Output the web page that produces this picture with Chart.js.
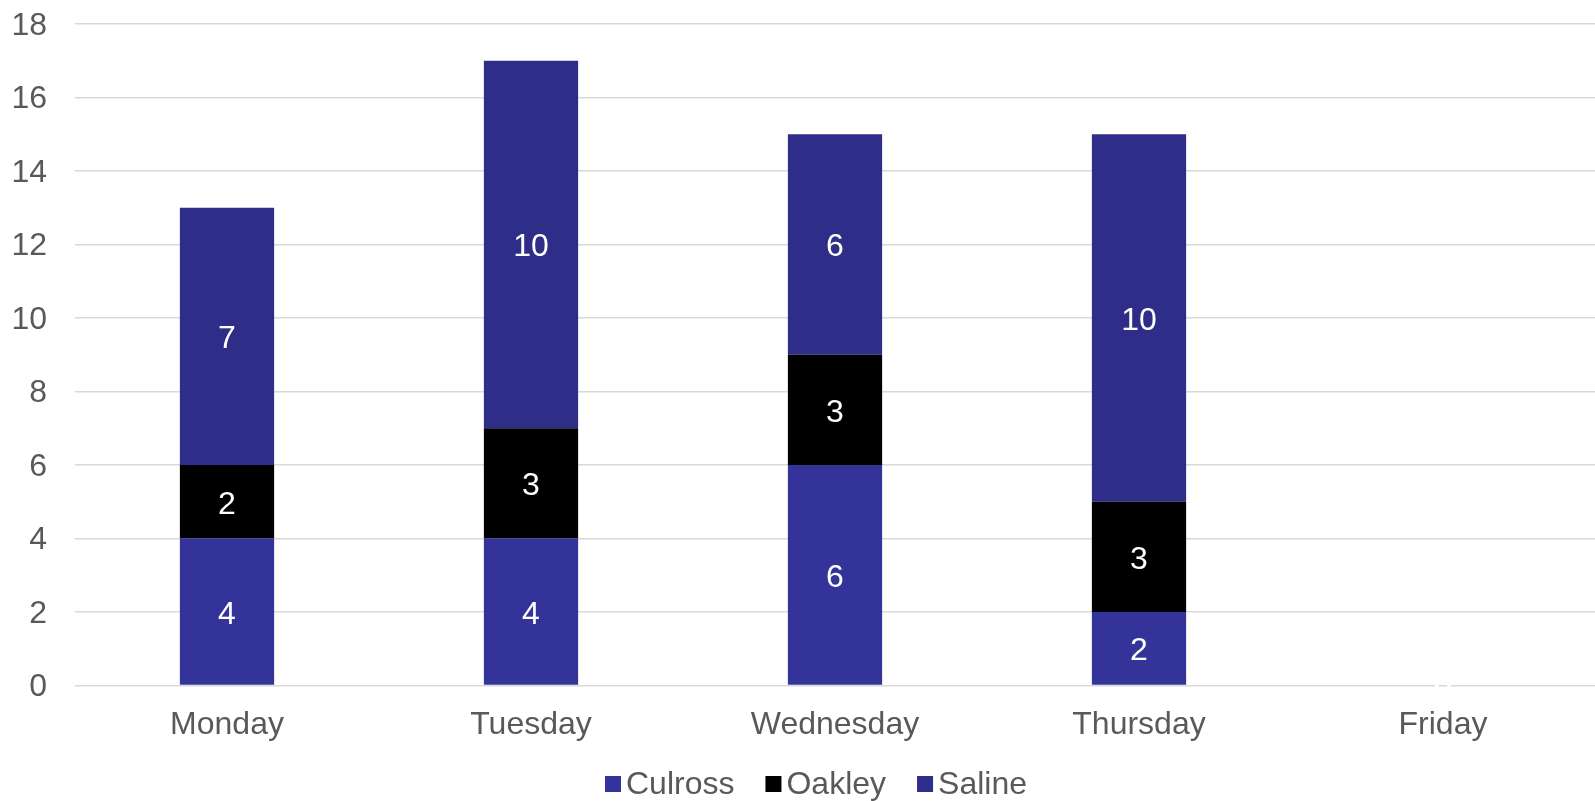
<!DOCTYPE html>
<html>
<head>
<meta charset="utf-8">
<script src="https://cdn.jsdelivr.net/npm/chart.js@4/dist/chart.umd.min.js"></script>
<style>
  html, body { margin: 0; padding: 0; background: #fff; }
  canvas { display: block; }
</style>
</head>
<body>
<canvas id="chart" width="1595" height="801"></canvas>
<script>
// dados
const dias = ['Monday', 'Tuesday', 'Wednesday', 'Thursday', 'Friday'];
const culross = [4, 4, 6, 2, 0];
const oakley = [2, 3, 3, 3, 0];
const saline = [7, 10, 6, 10, 0];
const yTicks = [0, 2, 4, 6, 8, 10, 12, 14, 16, 18];

const fonte = '"Liberation Sans", Arial, sans-serif';
const cinza = '#595959';

// rótulos brancos no meio de cada segmento
const rotulos = {
    id: 'rotulos',
    afterDatasetsDraw(chart) {
        const ctx = chart.ctx;
        ctx.save();
        ctx.font = '32px ' + fonte;
        ctx.fillStyle = '#ffffff';
        ctx.textAlign = 'center';
        ctx.textBaseline = 'middle';
        chart.data.datasets.forEach((ds, i) => {
            chart.getDatasetMeta(i).data.forEach((bar, j) => {
                ctx.fillText(String(ds.data[j]), bar.x, (bar.y + bar.base) / 2 + 3);
            });
        });
        ctx.restore();
    }
};

// legenda desenhada à mão (caixa colada no texto, como no Excel)
const legenda = {
    id: 'legenda',
    afterDraw(chart) {
        const ctx = chart.ctx;
        ctx.save();
        ctx.font = '32px ' + fonte;
        ctx.textBaseline = 'middle';
        const caixa = 16, gapTexto = 5, gapItem = 31;
        const itens = chart.data.datasets.map(ds => ({ nome: ds.label, cor: ds.backgroundColor, w: ctx.measureText(ds.label).width }));
        const total = itens.reduce((s, it) => s + caixa + gapTexto + it.w, 0) + gapItem * (itens.length - 1);
        let x = 816 - total / 2;
        const y = 784;
        itens.forEach(it => {
            ctx.fillStyle = it.cor;
            ctx.fillRect(x, y - caixa / 2, caixa, caixa);
            x += caixa + gapTexto;
            ctx.fillStyle = cinza;
            ctx.fillText(it.nome, x, y + 1);
            x += it.w + gapItem;
        });
        ctx.restore();
    }
};

new Chart(document.getElementById('chart'), {
    type: 'bar',
    data: {
        labels: dias,
        datasets: [
            { label: 'Culross', data: culross, backgroundColor: '#343399' },
            { label: 'Oakley', data: oakley, backgroundColor: '#000000' },
            { label: 'Saline', data: saline, backgroundColor: '#2E2D88' }
        ]
    },
    options: {
        responsive: false,
        animation: false,
        layout: { padding: { top: 24, right: 0, bottom: 37, left: 0 } },
        datasets: { bar: { categoryPercentage: 1, barPercentage: 0.31 } },
        plugins: { legend: { display: false }, tooltip: { enabled: false } },
        scales: {
            x: {
                stacked: true,
                grid: { display: false, drawTicks: false },
                border: { display: false },
                ticks: { color: cinza, font: { size: 32, family: fonte }, padding: 20 }
            },
            y: {
                stacked: true,
                min: 0,
                max: yTicks[yTicks.length - 1],
                afterBuildTicks: (axis) => { axis.ticks = yTicks.map(v => ({ value: v })); },
                afterFit: (axis) => {
                    axis.width = 75;
                    axis.paddingTop = 0;
                    axis.paddingBottom = 0;
                },
                grid: { color: '#d9d9d9', lineWidth: 1.5, drawTicks: false },
                border: { display: false },
                ticks: { color: cinza, font: { size: 32, family: fonte }, padding: 28, labelOffset: 2 }
            }
        }
    },
    plugins: [rotulos, legenda]
});
</script>
</body>
</html>
